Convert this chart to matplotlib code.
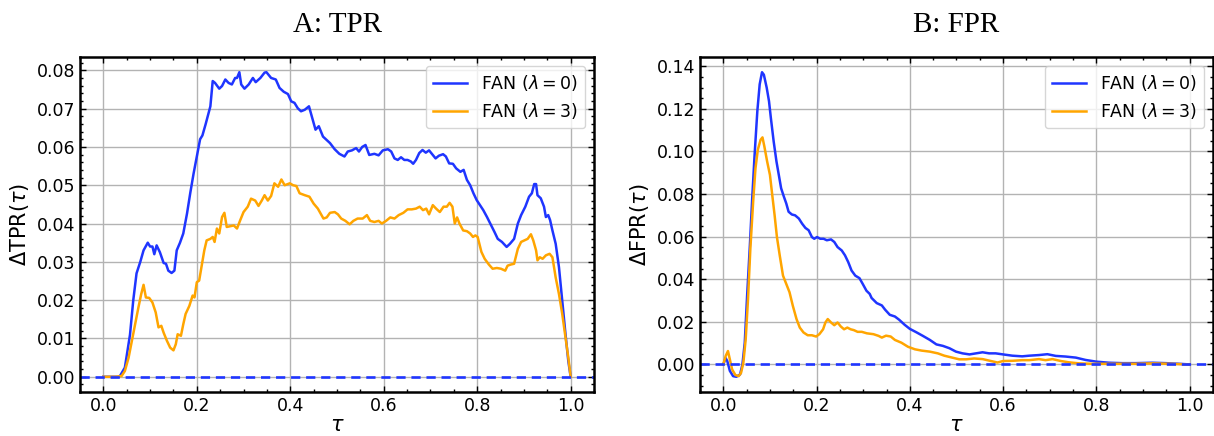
import matplotlib
matplotlib.use("Agg")
import matplotlib.pyplot as plt
from matplotlib.ticker import AutoMinorLocator, MultipleLocator, FormatStrFormatter

# ---- A: TPR, FAN (lambda = 0)
tpr0_tau = [0.0, 0.032, 0.036, 0.046, 0.057, 0.064, 0.071, 0.079, 0.086, 0.095, 0.100, 0.105,
            0.109, 0.114, 0.121, 0.129, 0.134, 0.139, 0.146, 0.152, 0.157, 0.164, 0.171, 0.179,
            0.186, 0.193, 0.200, 0.207, 0.212, 0.219, 0.229, 0.234, 0.239, 0.248, 0.254, 0.261,
            0.268, 0.275, 0.282, 0.286, 0.291, 0.295, 0.302, 0.311, 0.320, 0.326, 0.336, 0.345,
            0.349, 0.359, 0.369, 0.377, 0.386, 0.395, 0.402, 0.409, 0.416, 0.423, 0.431, 0.440,
            0.447, 0.454, 0.461, 0.470, 0.477, 0.485, 0.495, 0.505, 0.516, 0.523, 0.532, 0.541,
            0.547, 0.554, 0.561, 0.569, 0.580, 0.589, 0.598, 0.609, 0.616, 0.623, 0.630, 0.637,
            0.644, 0.651, 0.658, 0.663, 0.669, 0.676, 0.683, 0.690, 0.697, 0.705, 0.711, 0.718,
            0.727, 0.733, 0.740, 0.748, 0.755, 0.764, 0.771, 0.778, 0.785, 0.792, 0.799, 0.806,
            0.813, 0.821, 0.828, 0.837, 0.844, 0.853, 0.863, 0.870, 0.879, 0.887, 0.894, 0.903,
            0.911, 0.917, 0.922, 0.926, 0.929, 0.936, 0.943, 0.947, 0.952, 0.956, 0.961, 0.968,
            0.975, 0.982, 0.989, 0.995, 1.0]
tpr0 = [0.0, 0.0, 0.0003, 0.0024, 0.011, 0.020, 0.027, 0.030, 0.033, 0.035, 0.034, 0.034,
        0.032, 0.0343, 0.0325, 0.0297, 0.0295, 0.0277, 0.0271, 0.0277, 0.033, 0.035, 0.0374, 0.0426,
        0.048, 0.053, 0.0575, 0.062, 0.063, 0.066, 0.0706, 0.0772, 0.0767, 0.0752, 0.0759, 0.0776,
        0.0767, 0.0763, 0.078, 0.078, 0.0795, 0.0763, 0.0752, 0.0763, 0.078, 0.0769, 0.078, 0.0794,
        0.0795, 0.078, 0.0776, 0.0754, 0.0744, 0.0738, 0.0719, 0.0715, 0.0701, 0.0693, 0.0697, 0.0706,
        0.0675, 0.0645, 0.0654, 0.0627, 0.0619, 0.061, 0.0594, 0.0582, 0.0575, 0.0588, 0.0591, 0.0597,
        0.0588, 0.060, 0.0605, 0.0579, 0.0582, 0.0578, 0.0591, 0.0594, 0.0588, 0.057, 0.0566, 0.0573,
        0.0566, 0.0566, 0.0562, 0.0556, 0.0566, 0.0584, 0.0592, 0.0585, 0.0591, 0.0579, 0.057, 0.0577,
        0.0581, 0.0575, 0.0557, 0.0556, 0.0544, 0.0535, 0.054, 0.0514, 0.050, 0.0479, 0.0461, 0.0448,
        0.0435, 0.0417, 0.040, 0.0378, 0.036, 0.0352, 0.0339, 0.0347, 0.036, 0.040, 0.0422, 0.0444,
        0.047, 0.0479, 0.0503, 0.0503, 0.0474, 0.0466, 0.0444, 0.0417, 0.0422, 0.0409, 0.0382, 0.0347,
        0.0286, 0.0199, 0.0111, 0.0041, 0.0]

# ---- A: TPR, FAN (lambda = 3)
tpr3_tau = [0.0, 0.025, 0.039, 0.046, 0.054, 0.061, 0.068, 0.075, 0.081, 0.086, 0.091, 0.098,
            0.105, 0.112, 0.118, 0.124, 0.129, 0.136, 0.143, 0.150, 0.155, 0.159, 0.166, 0.171,
            0.176, 0.184, 0.191, 0.195, 0.200, 0.205, 0.211, 0.216, 0.221, 0.229, 0.234, 0.238,
            0.243, 0.248, 0.254, 0.259, 0.264, 0.271, 0.279, 0.286, 0.293, 0.300, 0.309, 0.316,
            0.325, 0.332, 0.339, 0.345, 0.352, 0.359, 0.366, 0.374, 0.381, 0.388, 0.399, 0.406,
            0.413, 0.420, 0.431, 0.441, 0.450, 0.459, 0.466, 0.471, 0.478, 0.485, 0.495, 0.502,
            0.509, 0.518, 0.527, 0.535, 0.544, 0.555, 0.564, 0.571, 0.580, 0.589, 0.596, 0.605,
            0.614, 0.623, 0.632, 0.642, 0.651, 0.660, 0.669, 0.677, 0.684, 0.691, 0.697, 0.705,
            0.712, 0.720, 0.728, 0.735, 0.741, 0.747, 0.752, 0.757, 0.762, 0.770, 0.778, 0.785,
            0.791, 0.796, 0.801, 0.809, 0.816, 0.825, 0.833, 0.842, 0.851, 0.860, 0.865, 0.872,
            0.879, 0.887, 0.894, 0.901, 0.908, 0.915, 0.920, 0.926, 0.929, 0.934, 0.940, 0.947,
            0.955, 0.961, 0.968, 0.975, 0.982, 0.989, 0.995, 1.0]
tpr3 = [0.0, 0.0, 0.0002, 0.0015, 0.005, 0.0094, 0.0137, 0.0181, 0.0216, 0.024, 0.0207, 0.0206,
        0.0194, 0.0168, 0.0129, 0.0133, 0.0115, 0.0094, 0.0076, 0.0069, 0.0085, 0.0111, 0.0107, 0.0137,
        0.0164, 0.0185, 0.0212, 0.0207, 0.0247, 0.0251, 0.0295, 0.033, 0.0356, 0.036, 0.0365, 0.0352,
        0.0387, 0.0374, 0.0417, 0.0428, 0.0391, 0.0393, 0.0395, 0.0387, 0.0409, 0.043, 0.0444, 0.0465,
        0.046, 0.0446, 0.046, 0.0474, 0.046, 0.0472, 0.0505, 0.0496, 0.0515, 0.050, 0.0505, 0.050,
        0.0498, 0.0479, 0.0474, 0.047, 0.0452, 0.0439, 0.0424, 0.0413, 0.0416, 0.0428, 0.043, 0.0424,
        0.0413, 0.0407, 0.0398, 0.0407, 0.0413, 0.0413, 0.0422, 0.0407, 0.0404, 0.0407, 0.040, 0.0407,
        0.0416, 0.0413, 0.0422, 0.0428, 0.0437, 0.0437, 0.0439, 0.0444, 0.0435, 0.0439, 0.0424, 0.0448,
        0.0439, 0.043, 0.0444, 0.0444, 0.0454, 0.0444, 0.040, 0.0416, 0.040, 0.0382, 0.038, 0.0374,
        0.0365, 0.0369, 0.0365, 0.0326, 0.0308, 0.0293, 0.0282, 0.0284, 0.0282, 0.0277, 0.029, 0.0293,
        0.0295, 0.0334, 0.0352, 0.0356, 0.036, 0.0372, 0.0356, 0.033, 0.0304, 0.0312, 0.0308, 0.0317,
        0.0321, 0.0312, 0.0259, 0.0216, 0.0164, 0.0103, 0.005, 0.0]

# ---- B: FPR, FAN (lambda = 0)
fpr0_tau = [0.0, 0.005, 0.0085, 0.014, 0.021, 0.028, 0.036, 0.041, 0.046, 0.051, 0.057, 0.062,
            0.067, 0.073, 0.078, 0.083, 0.087, 0.093, 0.098, 0.102, 0.108, 0.114, 0.119, 0.124,
            0.130, 0.135, 0.140, 0.147, 0.154, 0.162, 0.169, 0.176, 0.183, 0.190, 0.195, 0.201,
            0.208, 0.215, 0.222, 0.231, 0.238, 0.245, 0.254, 0.261, 0.268, 0.275, 0.283, 0.292,
            0.299, 0.307, 0.314, 0.318, 0.329, 0.340, 0.347, 0.357, 0.368, 0.377, 0.389, 0.400,
            0.414, 0.428, 0.443, 0.457, 0.471, 0.485, 0.499, 0.513, 0.528, 0.542, 0.556, 0.570,
            0.584, 0.600, 0.620, 0.641, 0.656, 0.677, 0.695, 0.713, 0.734, 0.756, 0.777, 0.800,
            0.827, 0.856, 0.884, 0.920, 0.949, 0.977, 1.0]
fpr0 = [0.0, 0.003, 0.0016, -0.003, -0.0055, -0.0058, -0.0047, 0.0, 0.0102, 0.032, 0.056, 0.078,
        0.098, 0.119, 0.1315, 0.1372, 0.136, 0.130, 0.1236, 0.1157, 0.1047, 0.0953, 0.089, 0.0827,
        0.0787, 0.0756, 0.0717, 0.0704, 0.070, 0.0685, 0.0661, 0.0641, 0.063, 0.0598, 0.059, 0.0598,
        0.059, 0.059, 0.0583, 0.0587, 0.0575, 0.0551, 0.0535, 0.0512, 0.048, 0.0441, 0.0417, 0.0405,
        0.0378, 0.0346, 0.0331, 0.0312, 0.0288, 0.0277, 0.0257, 0.0233, 0.0225, 0.021, 0.0186, 0.0167,
        0.0151, 0.0134, 0.0115, 0.0094, 0.0087, 0.0076, 0.006, 0.0052, 0.0047, 0.0052, 0.0057, 0.0052,
        0.0052, 0.0047, 0.0041, 0.0038, 0.0041, 0.0044, 0.0048, 0.004, 0.0037, 0.0032, 0.0021, 0.0013,
        0.0008, 0.0006, 0.0006, 0.0008, 0.0006, 0.0003, 0.0]

# ---- B: FPR, FAN (lambda = 3)
fpr3_tau = [0.0, 0.005, 0.010, 0.014, 0.019, 0.026, 0.033, 0.038, 0.043, 0.048, 0.053, 0.058,
            0.064, 0.069, 0.074, 0.080, 0.084, 0.088, 0.094, 0.100, 0.105, 0.110, 0.115, 0.121,
            0.128, 0.135, 0.142, 0.149, 0.157, 0.164, 0.172, 0.181, 0.190, 0.199, 0.206, 0.214,
            0.219, 0.224, 0.231, 0.238, 0.245, 0.252, 0.259, 0.266, 0.273, 0.280, 0.288, 0.297,
            0.308, 0.322, 0.333, 0.340, 0.349, 0.359, 0.368, 0.382, 0.396, 0.411, 0.425, 0.443,
            0.460, 0.474, 0.489, 0.506, 0.521, 0.538, 0.556, 0.574, 0.588, 0.600, 0.620, 0.641,
            0.656, 0.677, 0.691, 0.706, 0.724, 0.741, 0.763, 0.791, 0.820, 0.849, 0.884, 0.920,
            0.956, 1.0]
fpr3 = [0.0, 0.0039, 0.0063, 0.0024, -0.0024, -0.005, -0.0055, -0.004, 0.0008, 0.0118, 0.0307, 0.0543,
        0.0764, 0.0921, 0.1008, 0.1055, 0.1066, 0.1024, 0.0953, 0.089, 0.0795, 0.0701, 0.0598, 0.0512,
        0.0417, 0.0378, 0.0339, 0.0276, 0.0213, 0.0173, 0.015, 0.0137, 0.0137, 0.0131, 0.0142, 0.0165,
        0.0197, 0.0213, 0.0197, 0.0184, 0.0197, 0.0178, 0.0165, 0.0173, 0.0165, 0.0161, 0.0153, 0.0153,
        0.0146, 0.0142, 0.0134, 0.0126, 0.0135, 0.0131, 0.0115, 0.0102, 0.0083, 0.0071, 0.0065, 0.006,
        0.0052, 0.0041, 0.0033, 0.0024, 0.0024, 0.0028, 0.0025, 0.0016, 0.0009, 0.0016, 0.0017, 0.002,
        0.002, 0.0025, 0.002, 0.0025, 0.0016, 0.001, 0.0005, 0.0003, 0.0003, 0.0003, 0.0003, 0.0005,
        0.0003, 0.0]

titles = ['A: TPR', 'B: FPR']
ylabels = [r'$\Delta$TPR$(\tau)$', r'$\Delta$FPR$(\tau)$']
labels = [r'FAN ($\lambda = 0$)', r'FAN ($\lambda = 3$)']
blue = '#1f35ff'
orange = '#ffa500'

fig = plt.figure(figsize=(12.14, 4.36), dpi=100)
ax1 = fig.add_axes([0.0659, 0.1009, 0.4234, 0.7684])
ax2 = fig.add_axes([0.5766, 0.1009, 0.4225, 0.7684])

panels = [(ax1, tpr0_tau, tpr0, tpr3_tau, tpr3, 0.01),
          (ax2, fpr0_tau, fpr0, fpr3_tau, fpr3, 0.02)]

for i, (ax, t0, v0, t3, v3, ystep) in enumerate(panels):
    ax.plot(t0, v0, color=blue, lw=1.8, label=labels[0])
    ax.plot(t3, v3, color=orange, lw=1.8, label=labels[1])
    # dashed zero reference line
    ax.axhline(0, color=blue, lw=1.9, ls='--', dashes=(3.5, 2.2))
    ax.xaxis.set_major_locator(MultipleLocator(0.2))
    ax.yaxis.set_major_locator(MultipleLocator(ystep))
    ax.xaxis.set_minor_locator(AutoMinorLocator())
    ax.yaxis.set_minor_locator(AutoMinorLocator())
    ax.xaxis.set_major_formatter(FormatStrFormatter('%.1f'))
    ax.yaxis.set_major_formatter(FormatStrFormatter('%.2f'))
    ax.tick_params(which='both', direction='in', top=True, right=True, labelsize=12.5)
    ax.tick_params(which='major', length=4.5, width=1)
    ax.tick_params(which='minor', length=2.5, width=1)
    ax.grid(True, which='major', color='0.7', lw=1)
    for s in ax.spines.values():
        s.set_linewidth(1.8)
    ax.set_title(titles[i], fontfamily='Liberation Serif', fontsize=21, pad=18)
    ax.set_xlabel(r'$\tau$', fontsize=15, labelpad=0)
    ax.set_ylabel(ylabels[i], fontsize=15)
    ax.legend(loc='upper right', fontsize=12.5)

fig.savefig('out.png', dpi=100)
